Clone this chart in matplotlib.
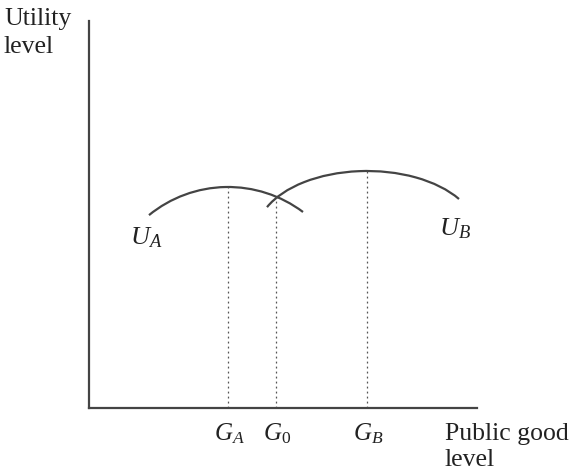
import numpy as np
import matplotlib.pyplot as plt
from matplotlib.patches import Arc

plt.rcParams['font.family'] = 'Liberation Serif'
plt.rcParams['mathtext.fontset'] = 'custom'
plt.rcParams['mathtext.rm'] = 'Liberation Serif'
plt.rcParams['mathtext.it'] = 'Liberation Serif:italic'

# utility curves: peak (G, U), half-width / half-height of the arc, end points on the G axis
peak_a = (139, 221)
size_a = (125, 125)
ends_a = (60, 214)

peak_b = (278, 237)
size_b = (110, 62)
ends_b = (178, 370)

g_levels = [139, 187, 278]
g_tops = [221, 211, 237]
g_labels = ['$G_A$', '$G_0$', '$G_B$']

col = '#444444'

fig = plt.figure(figsize=(5.72, 4.73), dpi=100)
ax = fig.add_axes([89/572, 65/473, 388/572, 387/473])
ax.set_xlim(0, 388)
ax.set_ylim(0, 387)
for s in ['top', 'right']:
    ax.spines[s].set_visible(False)
for s in ['left', 'bottom']:
    ax.spines[s].set_color(col)
    ax.spines[s].set_linewidth(1.6)
ax.set_xticks([])
ax.set_yticks([])


def draw_arc(peak, size, ends):
    a, b = size
    cx, cy = peak[0], peak[1] - b
    angs = []
    for x in ends:
        dx = x - cx
        dy = b * np.sqrt(1 - (dx / a) ** 2)
        angs.append(np.degrees(np.arctan2(dy, dx)))
    ax.add_patch(Arc((cx, cy), 2 * a, 2 * b, theta1=angs[1], theta2=angs[0],
                     color=col, lw=1.6, clip_on=False))


draw_arc(peak_a, size_a, ends_a)
draw_arc(peak_b, size_b, ends_b)

for g, top, lab in zip(g_levels, g_tops, g_labels):
    ax.plot([g, g], [0, top], ls=(0, (1.5, 2.5)), color='#555555', lw=0.9)
    ax.text(g + 1, -13, lab, ha='center', va='top', fontsize=18, color='#222222')

ax.text(57, 170, '$U_A$', ha='center', va='center', fontsize=19, color='#222222')
ax.text(366, 179, '$U_B$', ha='center', va='center', fontsize=19, color='#222222')

ax.text(-85, 400, 'Utility\nlevel', ha='left', va='top', fontsize=18.5,
        linespacing=1.33, color='#222222')
ax.text(356, -15, 'Public good\nlevel', ha='left', va='top', fontsize=18.5,
        linespacing=1.25, color='#222222')

fig.savefig('out.png', dpi=100)
